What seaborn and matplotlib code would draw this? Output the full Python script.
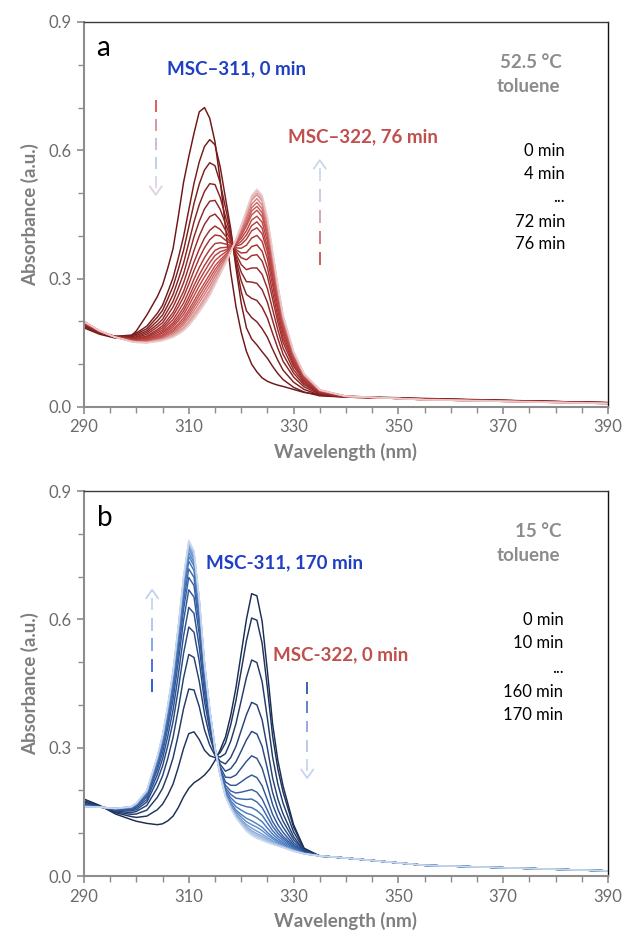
import numpy as np
import pandas as pd
import matplotlib
matplotlib.use("Agg")
import matplotlib.pyplot as plt
from matplotlib.ticker import FormatStrFormatter
import seaborn as sns

# ---------------- data ----------------
wavelength = [290, 293, 296, 299, 300, 302, 304, 305, 306, 307, 308, 309, 310, 311, 312,
              313, 314, 315, 316, 317, 318, 319, 320, 321, 322, 323, 324, 325, 326, 327,
              328, 330, 332, 335, 340, 355, 390]

# panel a: 52.5 °C, spectra every 4 min (columns = times, rows = wavelengths)
times_a = [0, 4, 8, 12, 16, 20, 24, 28, 32, 36, 40, 44, 48, 52, 56, 60, 64, 68, 72, 76]
absorb_a = [
    [0.185, 0.188, 0.190, 0.191, 0.193, 0.194, 0.195, 0.196, 0.196, 0.197, 0.197, 0.198, 0.198, 0.199, 0.199, 0.199, 0.200, 0.200, 0.200, 0.200],
    [0.170, 0.173, 0.174, 0.175, 0.175, 0.176, 0.176, 0.176, 0.177, 0.177, 0.177, 0.177, 0.177, 0.177, 0.178, 0.178, 0.178, 0.178, 0.178, 0.178],
    [0.161, 0.165, 0.165, 0.165, 0.164, 0.164, 0.164, 0.164, 0.164, 0.164, 0.164, 0.163, 0.163, 0.163, 0.163, 0.163, 0.163, 0.163, 0.163, 0.163],
    [0.166, 0.168, 0.166, 0.164, 0.162, 0.161, 0.159, 0.159, 0.158, 0.157, 0.156, 0.156, 0.155, 0.155, 0.154, 0.154, 0.154, 0.153, 0.153, 0.153],
    [0.178, 0.173, 0.170, 0.167, 0.164, 0.162, 0.160, 0.159, 0.157, 0.156, 0.156, 0.155, 0.154, 0.153, 0.153, 0.152, 0.152, 0.152, 0.151, 0.151],
    [0.215, 0.189, 0.183, 0.178, 0.174, 0.170, 0.166, 0.164, 0.162, 0.160, 0.158, 0.157, 0.155, 0.154, 0.153, 0.152, 0.151, 0.151, 0.150, 0.150],
    [0.258, 0.219, 0.210, 0.201, 0.193, 0.187, 0.181, 0.177, 0.173, 0.169, 0.167, 0.164, 0.162, 0.160, 0.159, 0.157, 0.155, 0.155, 0.154, 0.153],
    [0.285, 0.238, 0.226, 0.215, 0.205, 0.197, 0.190, 0.185, 0.180, 0.176, 0.173, 0.169, 0.166, 0.164, 0.162, 0.160, 0.158, 0.157, 0.156, 0.155],
    [0.325, 0.269, 0.253, 0.238, 0.226, 0.215, 0.205, 0.198, 0.192, 0.186, 0.182, 0.178, 0.174, 0.171, 0.169, 0.166, 0.163, 0.162, 0.160, 0.159],
    [0.370, 0.302, 0.282, 0.263, 0.247, 0.234, 0.221, 0.213, 0.204, 0.197, 0.192, 0.187, 0.182, 0.178, 0.175, 0.172, 0.168, 0.166, 0.165, 0.163],
    [0.445, 0.348, 0.322, 0.298, 0.278, 0.260, 0.245, 0.234, 0.223, 0.214, 0.207, 0.201, 0.194, 0.190, 0.185, 0.181, 0.177, 0.174, 0.172, 0.170],
    [0.525, 0.398, 0.366, 0.336, 0.311, 0.290, 0.270, 0.257, 0.243, 0.232, 0.224, 0.216, 0.208, 0.202, 0.197, 0.192, 0.186, 0.183, 0.181, 0.178],
    [0.585, 0.461, 0.421, 0.384, 0.354, 0.327, 0.304, 0.287, 0.270, 0.257, 0.247, 0.237, 0.227, 0.220, 0.213, 0.207, 0.200, 0.197, 0.193, 0.190],
    [0.640, 0.523, 0.476, 0.433, 0.398, 0.366, 0.339, 0.319, 0.299, 0.284, 0.272, 0.260, 0.248, 0.240, 0.233, 0.225, 0.217, 0.213, 0.209, 0.205],
    [0.690, 0.573, 0.521, 0.473, 0.434, 0.400, 0.369, 0.348, 0.326, 0.309, 0.296, 0.283, 0.270, 0.261, 0.252, 0.244, 0.235, 0.231, 0.226, 0.222],
    [0.700, 0.609, 0.554, 0.504, 0.463, 0.427, 0.395, 0.372, 0.349, 0.331, 0.317, 0.304, 0.290, 0.281, 0.272, 0.263, 0.254, 0.249, 0.245, 0.240],
    [0.675, 0.625, 0.571, 0.522, 0.481, 0.445, 0.413, 0.391, 0.368, 0.350, 0.337, 0.323, 0.310, 0.301, 0.292, 0.283, 0.274, 0.269, 0.265, 0.260],
    [0.620, 0.613, 0.564, 0.520, 0.483, 0.451, 0.423, 0.402, 0.382, 0.366, 0.354, 0.342, 0.330, 0.321, 0.313, 0.305, 0.297, 0.293, 0.289, 0.285],
    [0.530, 0.561, 0.524, 0.490, 0.462, 0.437, 0.415, 0.400, 0.384, 0.372, 0.363, 0.353, 0.344, 0.338, 0.332, 0.325, 0.319, 0.316, 0.313, 0.310],
    [0.420, 0.489, 0.466, 0.445, 0.428, 0.413, 0.400, 0.390, 0.381, 0.373, 0.367, 0.362, 0.356, 0.352, 0.348, 0.344, 0.341, 0.339, 0.337, 0.335],
    [0.315, 0.417, 0.409, 0.401, 0.395, 0.390, 0.385, 0.382, 0.378, 0.376, 0.374, 0.372, 0.369, 0.368, 0.367, 0.365, 0.364, 0.363, 0.363, 0.362],
    [0.235, 0.326, 0.335, 0.344, 0.352, 0.358, 0.364, 0.368, 0.372, 0.376, 0.378, 0.381, 0.383, 0.385, 0.386, 0.388, 0.390, 0.390, 0.391, 0.392],
    [0.175, 0.243, 0.270, 0.295, 0.315, 0.333, 0.349, 0.360, 0.371, 0.380, 0.387, 0.394, 0.400, 0.405, 0.409, 0.414, 0.418, 0.421, 0.423, 0.425],
    [0.130, 0.185, 0.225, 0.263, 0.293, 0.321, 0.344, 0.361, 0.378, 0.392, 0.402, 0.412, 0.423, 0.429, 0.436, 0.443, 0.450, 0.453, 0.457, 0.460],
    [0.100, 0.159, 0.209, 0.254, 0.292, 0.325, 0.354, 0.375, 0.395, 0.412, 0.424, 0.437, 0.449, 0.458, 0.466, 0.474, 0.483, 0.487, 0.491, 0.495],
    [0.082, 0.145, 0.199, 0.249, 0.289, 0.325, 0.356, 0.379, 0.401, 0.419, 0.433, 0.446, 0.460, 0.469, 0.478, 0.487, 0.496, 0.500, 0.505, 0.509],
    [0.068, 0.129, 0.183, 0.233, 0.274, 0.310, 0.341, 0.364, 0.387, 0.405, 0.418, 0.432, 0.445, 0.454, 0.463, 0.472, 0.481, 0.486, 0.490, 0.495],
    [0.060, 0.114, 0.163, 0.208, 0.245, 0.277, 0.306, 0.326, 0.347, 0.363, 0.375, 0.388, 0.400, 0.408, 0.416, 0.425, 0.433, 0.437, 0.441, 0.445],
    [0.055, 0.095, 0.135, 0.172, 0.202, 0.228, 0.252, 0.268, 0.285, 0.298, 0.308, 0.318, 0.328, 0.335, 0.342, 0.348, 0.355, 0.358, 0.362, 0.365],
    [0.051, 0.078, 0.109, 0.137, 0.160, 0.180, 0.198, 0.211, 0.224, 0.234, 0.242, 0.249, 0.257, 0.262, 0.267, 0.272, 0.277, 0.280, 0.282, 0.285],
    [0.048, 0.064, 0.086, 0.107, 0.123, 0.138, 0.151, 0.161, 0.170, 0.178, 0.183, 0.189, 0.194, 0.198, 0.202, 0.206, 0.209, 0.211, 0.213, 0.215],
    [0.041, 0.046, 0.058, 0.070, 0.079, 0.087, 0.095, 0.100, 0.105, 0.109, 0.112, 0.115, 0.119, 0.121, 0.123, 0.125, 0.127, 0.128, 0.129, 0.130],
    [0.034, 0.035, 0.041, 0.047, 0.052, 0.056, 0.060, 0.063, 0.065, 0.067, 0.069, 0.071, 0.072, 0.073, 0.074, 0.075, 0.076, 0.077, 0.077, 0.078],
    [0.029, 0.026, 0.028, 0.030, 0.032, 0.033, 0.034, 0.035, 0.036, 0.037, 0.037, 0.038, 0.038, 0.038, 0.039, 0.039, 0.039, 0.040, 0.040, 0.040],
    [0.025, 0.023, 0.023, 0.023, 0.024, 0.024, 0.024, 0.024, 0.024, 0.024, 0.024, 0.025, 0.025, 0.025, 0.025, 0.025, 0.025, 0.025, 0.025, 0.025],
    [0.020, 0.019, 0.019, 0.019, 0.019, 0.018, 0.018, 0.018, 0.018, 0.018, 0.018, 0.018, 0.017, 0.017, 0.017, 0.017, 0.017, 0.017, 0.017, 0.017],
    [0.010, 0.010, 0.010, 0.010, 0.010, 0.009, 0.009, 0.009, 0.009, 0.009, 0.009, 0.009, 0.009, 0.008, 0.008, 0.008, 0.008, 0.008, 0.008, 0.008],
]

# panel b: 15 °C, spectra every 10 min
times_b = [0, 10, 20, 30, 40, 50, 60, 70, 80, 90, 100, 110, 120, 130, 140, 150, 160, 170]
absorb_b = [
    [0.180, 0.176, 0.173, 0.170, 0.168, 0.167, 0.166, 0.165, 0.164, 0.164, 0.163, 0.163, 0.163, 0.162, 0.162, 0.162, 0.162, 0.162],
    [0.165, 0.164, 0.163, 0.163, 0.162, 0.162, 0.162, 0.162, 0.161, 0.161, 0.161, 0.161, 0.161, 0.161, 0.161, 0.161, 0.161, 0.161],
    [0.145, 0.148, 0.150, 0.152, 0.153, 0.154, 0.155, 0.156, 0.157, 0.157, 0.157, 0.157, 0.158, 0.158, 0.158, 0.158, 0.158, 0.158],
    [0.132, 0.139, 0.144, 0.148, 0.152, 0.154, 0.156, 0.158, 0.159, 0.159, 0.160, 0.161, 0.161, 0.161, 0.161, 0.162, 0.162, 0.162],
    [0.128, 0.137, 0.145, 0.151, 0.155, 0.159, 0.162, 0.164, 0.165, 0.166, 0.167, 0.168, 0.169, 0.169, 0.169, 0.170, 0.170, 0.170],
    [0.123, 0.140, 0.154, 0.165, 0.173, 0.179, 0.185, 0.188, 0.191, 0.193, 0.195, 0.196, 0.197, 0.198, 0.199, 0.199, 0.200, 0.200],
    [0.120, 0.155, 0.184, 0.206, 0.224, 0.237, 0.248, 0.256, 0.262, 0.266, 0.270, 0.272, 0.274, 0.276, 0.277, 0.278, 0.279, 0.280],
    [0.122, 0.168, 0.205, 0.234, 0.257, 0.274, 0.288, 0.299, 0.306, 0.312, 0.316, 0.320, 0.323, 0.325, 0.326, 0.328, 0.329, 0.330],
    [0.129, 0.189, 0.237, 0.275, 0.305, 0.327, 0.346, 0.359, 0.369, 0.377, 0.382, 0.386, 0.391, 0.393, 0.395, 0.397, 0.399, 0.400],
    [0.140, 0.215, 0.276, 0.324, 0.361, 0.388, 0.412, 0.429, 0.441, 0.451, 0.458, 0.463, 0.468, 0.472, 0.474, 0.477, 0.478, 0.480],
    [0.160, 0.254, 0.330, 0.390, 0.436, 0.470, 0.500, 0.521, 0.536, 0.549, 0.557, 0.564, 0.570, 0.574, 0.578, 0.581, 0.583, 0.585],
    [0.185, 0.298, 0.391, 0.463, 0.520, 0.561, 0.597, 0.623, 0.641, 0.656, 0.667, 0.674, 0.682, 0.687, 0.691, 0.695, 0.697, 0.700],
    [0.205, 0.333, 0.437, 0.518, 0.582, 0.628, 0.669, 0.698, 0.718, 0.736, 0.747, 0.756, 0.765, 0.771, 0.775, 0.779, 0.782, 0.785],
    [0.218, 0.337, 0.435, 0.511, 0.570, 0.614, 0.652, 0.679, 0.698, 0.714, 0.725, 0.733, 0.741, 0.746, 0.751, 0.755, 0.757, 0.760],
    [0.226, 0.319, 0.396, 0.455, 0.502, 0.536, 0.565, 0.586, 0.601, 0.614, 0.622, 0.629, 0.635, 0.639, 0.643, 0.646, 0.648, 0.650],
    [0.236, 0.294, 0.342, 0.379, 0.408, 0.429, 0.447, 0.460, 0.470, 0.478, 0.483, 0.487, 0.491, 0.493, 0.496, 0.497, 0.499, 0.500],
    [0.250, 0.281, 0.306, 0.326, 0.341, 0.352, 0.362, 0.369, 0.374, 0.378, 0.381, 0.383, 0.385, 0.387, 0.388, 0.389, 0.389, 0.390],
    [0.270, 0.277, 0.282, 0.286, 0.290, 0.292, 0.294, 0.296, 0.297, 0.297, 0.298, 0.299, 0.299, 0.299, 0.299, 0.300, 0.300, 0.300],
    [0.295, 0.289, 0.278, 0.268, 0.261, 0.255, 0.250, 0.246, 0.244, 0.242, 0.240, 0.239, 0.238, 0.237, 0.236, 0.236, 0.235, 0.235],
    [0.325, 0.311, 0.286, 0.262, 0.245, 0.231, 0.220, 0.212, 0.206, 0.201, 0.197, 0.193, 0.191, 0.189, 0.188, 0.187, 0.186, 0.185],
    [0.375, 0.353, 0.315, 0.277, 0.251, 0.230, 0.212, 0.199, 0.191, 0.183, 0.176, 0.171, 0.168, 0.165, 0.162, 0.161, 0.159, 0.158],
    [0.440, 0.410, 0.356, 0.303, 0.267, 0.236, 0.212, 0.194, 0.182, 0.171, 0.162, 0.154, 0.150, 0.145, 0.142, 0.140, 0.138, 0.136],
    [0.520, 0.480, 0.410, 0.340, 0.292, 0.252, 0.220, 0.196, 0.180, 0.166, 0.154, 0.144, 0.138, 0.132, 0.128, 0.125, 0.122, 0.120],
    [0.600, 0.550, 0.464, 0.377, 0.318, 0.268, 0.229, 0.199, 0.179, 0.162, 0.147, 0.135, 0.127, 0.120, 0.115, 0.111, 0.107, 0.105],
    [0.660, 0.603, 0.505, 0.406, 0.338, 0.281, 0.236, 0.202, 0.180, 0.160, 0.143, 0.129, 0.120, 0.112, 0.106, 0.102, 0.098, 0.095],
    [0.655, 0.598, 0.499, 0.400, 0.332, 0.275, 0.230, 0.196, 0.173, 0.153, 0.136, 0.122, 0.114, 0.105, 0.099, 0.095, 0.091, 0.088],
    [0.595, 0.544, 0.454, 0.365, 0.303, 0.252, 0.211, 0.180, 0.160, 0.142, 0.127, 0.114, 0.106, 0.098, 0.093, 0.089, 0.086, 0.083],
    [0.480, 0.440, 0.369, 0.299, 0.251, 0.211, 0.178, 0.154, 0.138, 0.124, 0.112, 0.102, 0.096, 0.090, 0.086, 0.083, 0.080, 0.078],
    [0.355, 0.327, 0.278, 0.229, 0.195, 0.167, 0.144, 0.127, 0.116, 0.106, 0.098, 0.091, 0.087, 0.082, 0.080, 0.077, 0.075, 0.074],
    [0.270, 0.250, 0.215, 0.180, 0.156, 0.136, 0.120, 0.108, 0.100, 0.093, 0.087, 0.082, 0.079, 0.076, 0.074, 0.072, 0.071, 0.070],
    [0.210, 0.196, 0.170, 0.145, 0.128, 0.114, 0.102, 0.093, 0.088, 0.083, 0.078, 0.075, 0.072, 0.070, 0.069, 0.068, 0.067, 0.066],
    [0.120, 0.114, 0.103, 0.092, 0.085, 0.078, 0.073, 0.070, 0.067, 0.065, 0.063, 0.062, 0.061, 0.060, 0.059, 0.059, 0.058, 0.058],
    [0.065, 0.064, 0.061, 0.059, 0.058, 0.056, 0.055, 0.054, 0.054, 0.053, 0.053, 0.053, 0.053, 0.052, 0.052, 0.052, 0.052, 0.052],
    [0.046, 0.047, 0.047, 0.047, 0.047, 0.047, 0.047, 0.047, 0.047, 0.047, 0.047, 0.047, 0.047, 0.047, 0.047, 0.047, 0.047, 0.047],
    [0.042, 0.042, 0.042, 0.042, 0.042, 0.042, 0.042, 0.042, 0.042, 0.042, 0.042, 0.042, 0.042, 0.042, 0.042, 0.042, 0.042, 0.042],
    [0.025, 0.025, 0.025, 0.025, 0.025, 0.025, 0.025, 0.025, 0.025, 0.025, 0.025, 0.025, 0.025, 0.025, 0.025, 0.025, 0.025, 0.025],
    [0.012, 0.012, 0.012, 0.012, 0.012, 0.012, 0.012, 0.012, 0.012, 0.012, 0.012, 0.012, 0.012, 0.012, 0.012, 0.012, 0.012, 0.012],
]

x_ticks = [290, 310, 330, 350, 370, 390]
y_ticks = [0.0, 0.3, 0.6, 0.9]
time_labels_a = ["0 min", "4 min", "...", "72 min", "76 min"]
time_labels_b = ["0 min", "10 min", "...", "160 min", "170 min"]


def to_long(wl, times, rows):
    recs = []
    for w, row in zip(wl, rows):
        for t, v in zip(times, row):
            recs.append((w, t, v))
    return pd.DataFrame(recs, columns=["wl", "time", "A"])


df_a = to_long(wavelength, times_a, absorb_a)
df_b = to_long(wavelength, times_b, absorb_b)

# ---------------- style ----------------
sns.set_theme(style="white")
plt.rcParams["font.family"] = ["Lato", "DejaVu Sans"]

GREY_AX = "#8c8c8c"
GREY_TXT = "#6b6b6b"
GREY_LAB = "#7f7f7f"
BLUE_TXT = "#1f3fc4"
RED_TXT = "#c0504d"

pal_a = sns.blend_palette(["#6e1616", "#a42f2f", "#c4504e", "#ebcaca"], len(times_a))
pal_b = sns.blend_palette(["#1a2d52", "#2f5597", "#5284c8", "#cad8ee"], len(times_b))

fig = plt.figure(figsize=(6.29, 9.36), dpi=100)
ax_a = fig.add_axes([0.1335, 0.5652, 0.8331, 0.4113])
ax_b = fig.add_axes([0.1335, 0.0641, 0.8331, 0.4113])

sns.lineplot(data=df_a, x="wl", y="A", hue="time", hue_order=times_a, palette=pal_a,
             legend=False, linewidth=1.05, estimator=None, ax=ax_a)
sns.lineplot(data=df_b, x="wl", y="A", hue="time", hue_order=times_b, palette=pal_b,
             legend=False, linewidth=1.05, estimator=None, ax=ax_b)

for ax in (ax_a, ax_b):
    ax.set_xlim(290, 390)
    ax.set_ylim(0, 0.9)
    ax.set_xticks(x_ticks)
    ax.set_xticks(np.arange(290, 391, 5), minor=True)
    ax.set_yticks(y_ticks)
    ax.set_yticks(np.arange(0, 0.91, 0.1), minor=True)
    ax.yaxis.set_major_formatter(FormatStrFormatter("%.1f"))
    ax.tick_params(which="both", direction="out", bottom=True, left=True,
                   color=GREY_AX, labelcolor=GREY_TXT, labelsize=12)
    ax.tick_params(which="major", length=5, width=1.2, pad=4)
    ax.tick_params(which="minor", length=4, width=1.0)
    for s in ("left", "bottom"):
        ax.spines[s].set_color(GREY_AX)
        ax.spines[s].set_linewidth(1.5)
    ax.spines["top"].set_color("#3a3a3a")
    ax.spines["right"].set_color("#111111")
    ax.spines["top"].set_linewidth(1.0)
    ax.spines["right"].set_linewidth(1.0)
    ax.set_xlabel("Wavelength (nm)", fontsize=13.5, fontweight="bold", color=GREY_LAB, labelpad=5)
    ax.set_ylabel("Absorbance (a.u.)", fontsize=13.5, fontweight="bold", color=GREY_LAB, labelpad=7)


def dashed_arrow(ax, x, y_tail, y_head, colors, head_color):
    n = len(colors)
    d = y_head - y_tail
    for i, c in enumerate(colors):
        s = y_tail + d * i / n
        e = y_tail + d * (i + 0.62) / n
        ax.plot([x, x], [s, e], color=c, lw=1.3, solid_capstyle="butt", zorder=5)
    sgn = 1 if d > 0 else -1
    ax.plot([x - 1.15, x, x + 1.15], [y_head - sgn * 0.02, y_head, y_head - sgn * 0.02],
            color=head_color, lw=1.3, zorder=5)


LBL = 13.5
# ---- panel a annotations ----
ax_a.text(293.6, 0.839, "a", fontsize=20, color="black", ha="center", va="center")
ax_a.text(305.8, 0.777, "MSC\u2013311, 0 min", fontsize=LBL, fontweight="bold", color=BLUE_TXT, va="baseline")
ax_a.text(328.9, 0.618, "MSC\u2013322, 76 min", fontsize=LBL, fontweight="bold", color=RED_TXT, va="baseline")
ax_a.text(381.2, 0.792, "52.5 \u00b0C", fontsize=LBL, fontweight="bold", color=GREY_AX, ha="right", va="baseline")
ax_a.text(380.8, 0.737, "toluene", fontsize=LBL, fontweight="bold", color=GREY_AX, ha="right", va="baseline")
for lab, yy in zip(time_labels_a, [0.587, 0.533, 0.480, 0.421, 0.369]):
    ax_a.text(381.8, yy, lab, fontsize=12, color="black", ha="right", va="baseline")
dashed_arrow(ax_a, 303.7, 0.718, 0.496,
             ["#d9534f", "#d98c98", "#c9b4d6", "#bccaf0", "#dcd4ea"], "#e2d2dc")
dashed_arrow(ax_a, 335.0, 0.332, 0.577,
             ["#c9504d", "#cc6f73", "#c9a4b6", "#c6c8e6", "#d2d6ee"], "#cdd5ee")

# ---- panel b annotations ----
ax_b.text(294.0, 0.837, "b", fontsize=20, color="black", ha="center", va="center")
ax_b.text(313.3, 0.719, "MSC-311, 170 min", fontsize=LBL, fontweight="bold", color=BLUE_TXT, va="baseline")
ax_b.text(326.0, 0.505, "MSC-322, 0 min", fontsize=LBL, fontweight="bold", color=RED_TXT, va="baseline")
ax_b.text(381.2, 0.792, "15 \u00b0C", fontsize=LBL, fontweight="bold", color=GREY_AX, ha="right", va="baseline")
ax_b.text(380.8, 0.737, "toluene", fontsize=LBL, fontweight="bold", color=GREY_AX, ha="right", va="baseline")
for lab, yy in zip(time_labels_b, [0.587, 0.532, 0.474, 0.418, 0.365]):
    ax_b.text(381.5, yy, lab, fontsize=12, color="black", ha="right", va="baseline")
dashed_arrow(ax_b, 303.0, 0.43, 0.669,
             ["#1f4fd6", "#3e6ad8", "#7e9fe2", "#aac2ec", "#c4d4f2"], "#c0d2f0")
dashed_arrow(ax_b, 332.6, 0.453, 0.229,
             ["#2d55b5", "#5478c8", "#8aa6dc", "#b2c6ec", "#c8d6f2"], "#c4d4f2")

fig.savefig("out.png", dpi=100, facecolor="white")
